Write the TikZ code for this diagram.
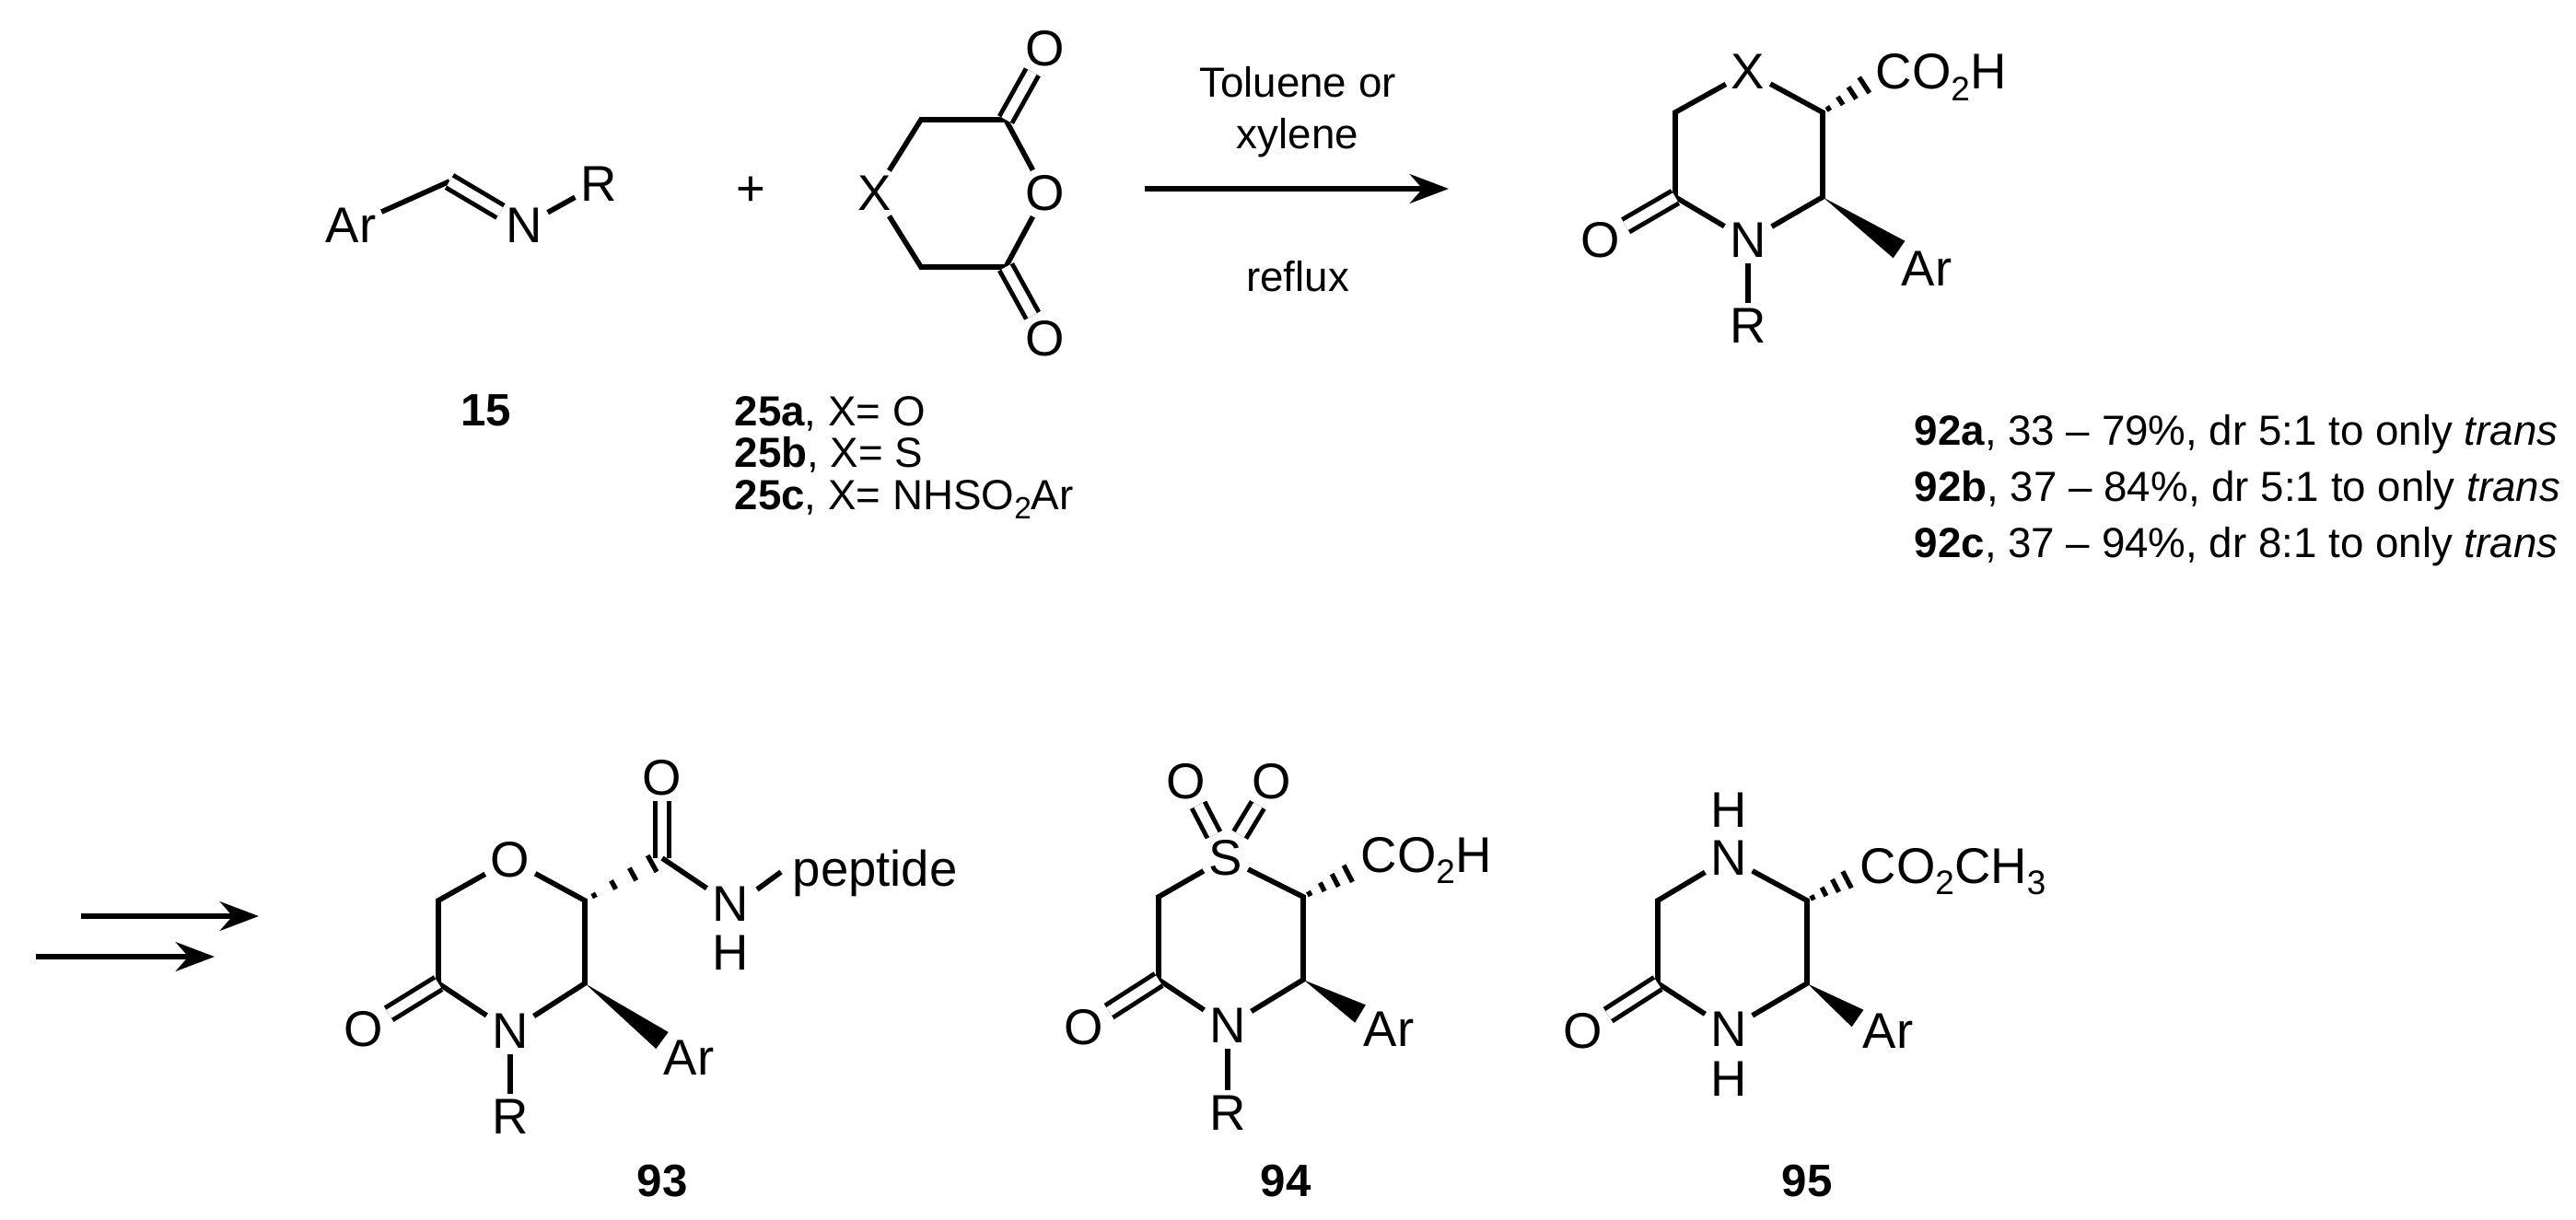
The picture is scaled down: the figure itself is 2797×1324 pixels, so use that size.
\documentclass[tikz,border=0pt]{standalone}
\usepackage{fontspec}
\setmainfont{Liberation Sans}
\usetikzlibrary{arrows.meta,calc}
\newcommand\subs[1]{\raisebox{-0.45ex}{\fontsize{10.5}{11}\selectfont #1}}
\newcommand\subl[1]{\raisebox{-0.45ex}{\fontsize{9.5}{10}\selectfont #1}}
\newcommand\hashb[2]{\foreach \t/\w in {0.12/0.8,0.37/1.5,0.62/2.2,0.87/2.9}
  \draw[line width=1.5pt] ($(#1)!\t!(#2)!\w pt!90:(#2)$) -- ($(#1)!\t!(#2)!\w pt!-90:(#2)$);}
\newcommand\wedgeb[2]{\fill ($(#1)!0.3pt!(#2)$) -- ($(#2)!3.2pt!90:(#1)$) -- ($(#2)!3.2pt!-90:(#1)$) -- cycle;}
\begin{document}
\begin{tikzpicture}[x=0.01cm,y=-0.01cm,
  font=\fontsize{13}{15}\selectfont,
  atom/.style={inner sep=1.5pt,font=\fontsize{15.5}{17}\selectfont},
  grp/.style={anchor=base west,inner sep=0pt,font=\fontsize{15.5}{17}\selectfont},
  bond/.style={line width=1.6pt},
  dbl/.style={line width=1.4pt,double,double distance=3pt},
  rxn/.style={line width=1.6pt,-{Stealth[length=12pt,width=9pt]}},
  lbl/.style={anchor=base west,inner sep=0pt},
  cmpd/.style={font=\fontsize{14}{16}\selectfont\bfseries}]
\useasboundingbox (0,0) rectangle (2797,1324);
% ---------- imine 15
\node[atom] (iAr) at (381,245) {Ar};
\coordinate (ic) at (488,197);
\node[atom] (iN) at (569,245) {N};
\node[atom] (iR) at (650,200) {R};
\draw[bond] (iAr) -- (ic);
\draw[dbl] (ic) -- (iN);
\draw[bond] (iN) -- (iR);
\node[cmpd] (l15) at (528,446) {15};
\node[atom] (plus) at (815,208) {+};
% ---------- anhydride 25
\node[atom] (aX) at (950,210) {X};
\coordinate (at) at (1000,130);
\coordinate (ab) at (1000,290);
\coordinate (act) at (1092,130);
\coordinate (acb) at (1092,290);
\node[atom] (aO) at (1135,210) {O};
\node[atom] (aOt) at (1135,53) {O};
\node[atom] (aOb) at (1135,368) {O};
\draw[bond] (aX) -- (at) -- (act) -- (aO) -- (acb) -- (ab) -- (aX);
\draw[dbl] (act) -- (aOt);
\draw[dbl] (acb) -- (aOb);
\node[lbl] (l25a) at (797,462) {\textbf{25a}, X= O};
\node[lbl] (l25b) at (797,507) {\textbf{25b}, X= S};
\node[lbl] (l25c) at (797,553) {\textbf{25c}, X= NHSO\subl{2}Ar};
% ---------- reaction arrow
\coordinate (r1) at (1243,205);
\coordinate (r2) at (1573,205);
\draw[rxn] (r1) -- (r2);
\node (t1) at (1409,89) {Toluene or};
\node (t2) at (1409,150) {xylene};
\node (t3) at (1409,300) {reflux};
% ---------- product 92
\node[atom] (pX) at (1898,78) {X};
\coordinate (p6) at (1819,122);
\coordinate (p5) at (1819,214);
\node[atom] (pO) at (1738,261) {O};
\node[atom] (pN) at (1898,261) {N};
\node[atom] (pR) at (1898,354) {R};
\coordinate (p3) at (1979,214);
\coordinate (p2) at (1979,122);
\node[atom] (pAr) at (2092,292) {Ar};
\coordinate (pw) at (2062,271);
\coordinate (ph) at (2031,88);
\node[grp] (pCO) at (2036,97) {CO\subs{2}H};
\draw[bond] (pX) -- (p6) -- (p5) -- (pN) -- (p3) -- (p2) -- (pX);
\draw[dbl] (p5) -- (pO);
\draw[bond] (pN) -- (pR);
\wedgeb{p3}{pw}
\hashb{p2}{ph}
\node[lbl] (l92a) at (2078,483) {\textbf{92a}, 33 – 79\%, dr 5:1 to only \textit{trans}};
\node[lbl] (l92b) at (2078,544) {\textbf{92b}, 37 – 84\%, dr 5:1 to only \textit{trans}};
\node[lbl] (l92c) at (2078,605) {\textbf{92c}, 37 – 94\%, dr 8:1 to only \textit{trans}};
% ---------- double arrows
\coordinate (d1) at (88,995);
\coordinate (d2) at (281,995);
\coordinate (d3) at (39,1039);
\coordinate (d4) at (233,1039);
\draw[rxn] (d1) -- (d2);
\draw[rxn] (d3) -- (d4);
% ---------- 93
\node[atom] (aO1) at (554,934) {O};
\coordinate (a6) at (476,978);
\coordinate (a5) at (476,1068);
\node[atom] (aO5) at (395,1118) {O};
\node[atom] (aN) at (554,1120) {N};
\node[atom] (aR) at (554,1213) {R};
\coordinate (a3) at (635,1068);
\coordinate (a2) at (635,978);
\node[atom] (aAr) at (748,1149) {Ar};
\coordinate (aw) at (719,1130);
\coordinate (acC) at (719,932);
\node[atom] (aOc) at (719,845) {O};
\node[atom] (aNH) at (793,982) {N};
\node[atom] (aH) at (793,1035) {H};
\node[grp] (pep) at (860,962) {peptide};
\coordinate (pa) at (822,966);
\coordinate (pb) at (848,947);
\draw[bond] (aO1) -- (a6) -- (a5) -- (aN) -- (a3) -- (a2) -- (aO1);
\draw[dbl] (a5) -- (aO5);
\draw[bond] (aN) -- (aR);
\wedgeb{a3}{aw}
\hashb{a2}{acC}
\draw[dbl] (acC) -- (aOc);
\draw[bond] (acC) -- (aNH);
\draw[bond] (pa) -- (pb);
\node[cmpd] (l93) at (719,1283) {93};
% ---------- 94
\node[atom] (bS) at (1331,932) {S};
\node[atom] (bO1) at (1288,849) {O};
\node[atom] (bO2) at (1381,849) {O};
\coordinate (b6) at (1258,974);
\coordinate (b5) at (1258,1064);
\node[atom] (bO5) at (1177,1116) {O};
\node[atom] (bN) at (1333,1114) {N};
\node[atom] (bR) at (1333,1209) {R};
\coordinate (b3) at (1415,1064);
\coordinate (b2) at (1415,974);
\node[atom] (bAr) at (1508,1118) {Ar};
\coordinate (bw) at (1477,1101);
\coordinate (bh) at (1471,945);
\node[grp] (bCO) at (1477,947) {CO\subs{2}H};
\draw[bond] (bS) -- (b6) -- (b5) -- (bN) -- (b3) -- (b2) -- (bS);
\draw[dbl] (bS) -- (bO1);
\draw[dbl] (bS) -- (bO2);
\draw[dbl] (b5) -- (bO5);
\draw[bond] (bN) -- (bR);
\wedgeb{b3}{bw}
\hashb{b2}{bh}
\node[cmpd] (l94) at (1396,1283) {94};
% ---------- 95
\node[atom] (cN1) at (1877,932) {N};
\node[atom] (cH1) at (1877,880) {H};
\coordinate (c6) at (1800,978);
\coordinate (c5) at (1800,1068);
\node[atom] (cO5) at (1719,1120) {O};
\node[atom] (cN4) at (1877,1118) {N};
\node[atom] (cH4) at (1877,1172) {H};
\coordinate (c3) at (1962,1068);
\coordinate (c2) at (1962,978);
\node[atom] (cAr) at (2050,1120) {Ar};
\coordinate (cw) at (2017,1106);
\coordinate (ch) at (2012,952);
\node[grp] (cCO) at (2019,959) {CO\subs{2}CH\subs{3}};
\draw[bond] (cN1) -- (c6) -- (c5) -- (cN4) -- (c3) -- (c2) -- (cN1);
\draw[dbl] (c5) -- (cO5);
\wedgeb{c3}{cw}
\hashb{c2}{ch}
\node[cmpd] (l95) at (1962,1283) {95};
\end{tikzpicture}
\end{document}
